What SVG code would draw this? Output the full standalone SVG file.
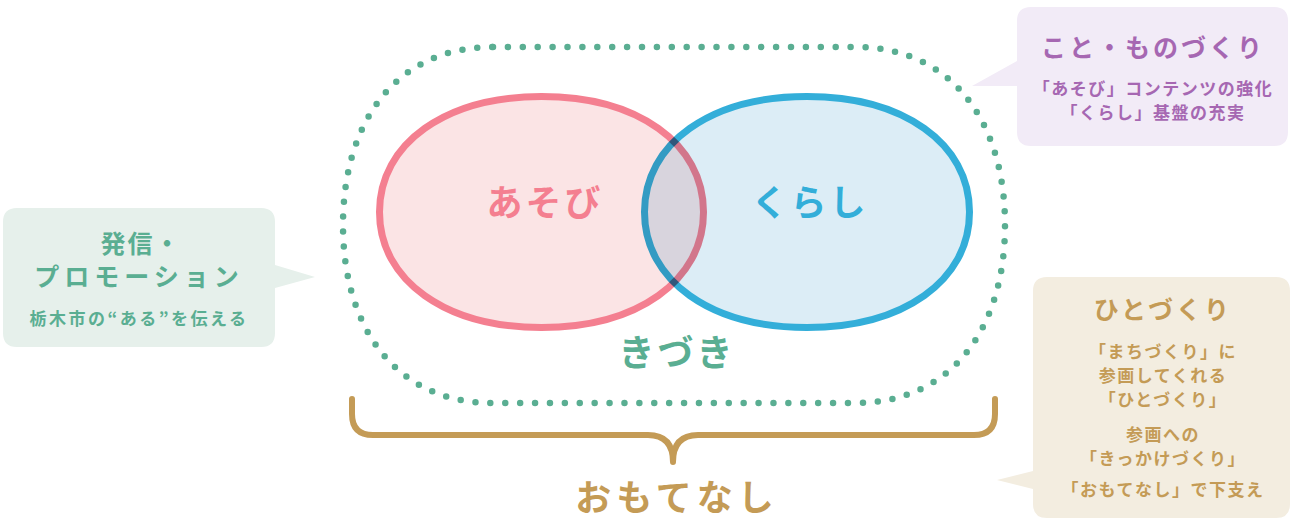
<svg xmlns="http://www.w3.org/2000/svg" width="1295" height="526" viewBox="0 0 1295 526">
<style>
text{font-family:"Noto Sans CJK JP","Noto Sans",sans-serif;font-weight:700;text-anchor:middle}
.big{font-size:36px;letter-spacing:3px}
.ttl{font-size:25px;letter-spacing:2px}
.sub{font-size:17px;letter-spacing:1.5px}
.pur{fill:#a667b2}
.grn{fill:#5aae92}
.gld{fill:#c49b56}
</style>
<rect width="1295" height="526" fill="#ffffff"/>
<g id="connectors">
<path id="kizuki-outline" d="M493,47 H855 C953,47 1005,123 1005,225 C1005,327 953,403 855,403 H493 C395,403 343,327 343,225 C343,123 395,47 493,47 Z" fill="none" stroke="#5aae92" stroke-width="6.5" stroke-linecap="round" stroke-dasharray="0 14.9"/>
<path id="omotenashi-brace" d="M352,399 V414 Q352,435 373,435 H648 Q673,435 673,462 Q673,435 698,435 H974 Q995,435 995,414 V399" fill="none" stroke="#c49b56" stroke-width="6" stroke-linecap="round" stroke-linejoin="round"/>
</g>
<g id="venn" style="isolation:isolate">
<g id="asobi">
<path d="M379.5,212 C379.5,143 446,96.5 541.5,96.5 C637,96.5 703.5,143 703.5,212 C703.5,281 637,327.5 541.5,327.5 C446,327.5 379.5,281 379.5,212 Z" fill="#fbe4e5" stroke="#f47f90" stroke-width="7"/>
</g>
<g id="kurashi" style="mix-blend-mode:multiply">
<path d="M644.5,212 C644.5,143 711,96.5 807,96.5 C903,96.5 969.5,143 969.5,212 C969.5,281 903,327.5 807,327.5 C711,327.5 644.5,281 644.5,212 Z" fill="#dcedf6" stroke="#33aed9" stroke-width="7"/>
</g>
</g>
<g id="labels">
<text class="big" x="545" y="216" fill="#f47f90">あそび</text>
<text class="big" x="810" y="216" fill="#33aed9">くらし</text>
<text class="big grn" x="677" y="366">きづき</text>
<text class="big gld" x="677" y="511" style="letter-spacing:5px">おもてなし</text>
</g>
<g id="kotomono">
<path d="M1031,7 H1274 Q1288,7 1288,21 V132 Q1288,146 1274,146 H1031 Q1017,146 1017,132 V86 H972 L1017,61 V21 Q1017,7 1031,7 Z" fill="#f2ebf7"/>
<text class="ttl pur" x="1153" y="57" style="letter-spacing:3px">こと・ものづくり</text>
<text class="sub pur" x="1153" y="95">「あそび」コンテンツの強化</text>
<text class="sub pur" x="1153" y="119">「くらし」基盤の充実</text>
</g>
<g id="hasshin">
<path d="M17,208 H261 Q275,208 275,222 V265 L315,277 L275,288 V333 Q275,347 261,347 H17 Q3,347 3,333 V222 Q3,208 17,208 Z" fill="#e6f0eb"/>
<text class="ttl grn" x="141" y="253">発信・</text>
<text class="ttl grn" x="139" y="286" style="letter-spacing:5px">プロモーション</text>
<text class="sub grn" x="139" y="325" style="letter-spacing:2.5px">栃木市の“ある”を伝える</text>
</g>
<g id="hitozukuri">
<path d="M1047,277 H1276 Q1290,277 1290,291 V504 Q1290,518 1276,518 H1047 Q1033,518 1033,504 V489 L997,480 L1033,471 V291 Q1033,277 1047,277 Z" fill="#f3ede0"/>
<text class="ttl gld" x="1163" y="319" style="letter-spacing:3px">ひとづくり</text>
<text class="sub gld" x="1163" y="358">「まちづくり」に</text>
<text class="sub gld" x="1163" y="382">参画してくれる</text>
<text class="sub gld" x="1163" y="406">「ひとづくり」</text>
<text class="sub gld" x="1163" y="441">参画への</text>
<text class="sub gld" x="1163" y="465">「きっかけづくり」</text>
<text class="sub gld" x="1163" y="496">「おもてなし」で下支え</text>
</g>
</svg>
